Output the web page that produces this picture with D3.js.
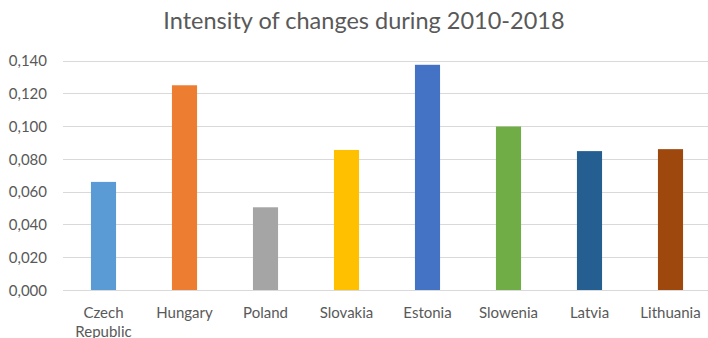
<!DOCTYPE html>
<html>
<head>
<meta charset="utf-8">
<script src="https://cdn.jsdelivr.net/npm/d3@7"></script>
<style>
  html, body { margin: 0; padding: 0; background: #fff; }
  svg { display: block; }
  text { font-family: Lato, "Open Sans", sans-serif; }
</style>
</head>
<body>
<svg id="chart" width="708" height="338"></svg>
<script>
// Intensity of changes per country, 2010-2018
const countries = ["Czech Republic", "Hungary", "Poland", "Slovakia", "Estonia", "Slowenia", "Latvia", "Lithuania"];
const values = [0.066, 0.125, 0.0505, 0.0855, 0.1375, 0.0998, 0.0848, 0.086];
const barColors = ["#5B9BD5", "#ED7D31", "#A5A5A5", "#FFC000", "#4472C4", "#70AD47", "#255E91", "#9E480E"];
const yTicks = [0, 0.02, 0.04, 0.06, 0.08, 0.10, 0.12, 0.14];
const title = "Intensity of changes during 2010-2018";

const svg = d3.select("#chart");
const margin = { left: 63, right: -3, top: 60.7, bottom: 48 };
const W = 708, H = 338;

const x = d3.scaleBand()
  .domain(countries)
  .range([margin.left, W - margin.right])
  .paddingInner(0.69)
  .paddingOuter(0.345);

const y = d3.scaleLinear()
  .domain([0, 0.14])
  .range([290, margin.top]);

const fmt = v => d3.format(".3f")(v).replace(".", ",");

// Title
svg.append("text")
  .attr("x", 364)
  .attr("y", 29)
  .attr("text-anchor", "middle")
  .attr("fill", "#595959")
  .style("font-size", "23.5px")
  .text(title);

// Gridlines
svg.append("g")
  .selectAll("line")
  .data(yTicks.slice(1))
  .join("line")
  .attr("x1", margin.left)
  .attr("x2", W)
  .attr("y1", d => Math.round(y(d)) + 0.5)
  .attr("y2", d => Math.round(y(d)) + 0.5)
  .attr("stroke", "#d9d9d9")
  .attr("stroke-width", 1);

// Y axis labels
const yAxis = d3.axisLeft(y).tickValues(yTicks).tickFormat(fmt).tickSize(0).tickPadding(0);
const gy = svg.append("g")
  .attr("transform", `translate(${margin.left - 16},0)`)
  .call(yAxis);
gy.select(".domain").remove();
gy.selectAll("text")
  .attr("fill", "#595959")
  .attr("dy", "0.35em")
  .style("font-size", "15px")
  .style("font-family", "Lato, 'Open Sans', sans-serif");

// Bars
svg.append("g")
  .selectAll("rect")
  .data(countries)
  .join("rect")
  .attr("x", d => x(d))
  .attr("width", x.bandwidth())
  .attr("y", (d, i) => y(values[i]))
  .attr("height", (d, i) => y(0) - y(values[i]))
  .attr("fill", (d, i) => barColors[i]);

// Baseline (x axis) with wrapped category labels
const xAxis = d3.axisBottom(x).tickSize(0).tickPadding(0);
const gx = svg.append("g")
  .attr("transform", `translate(0,${Math.round(y(0)) + 0.5})`)
  .call(xAxis);
gx.select(".domain")
  .attr("d", `M${margin.left},0H${W}`)
  .attr("stroke", "#d9d9d9");
gx.selectAll(".tick text").each(function (d) {
  const t = d3.select(this);
  const words = d.split(" ");
  t.text(null)
    .attr("y", null)
    .attr("dy", null)
    .attr("fill", "#595959")
    .style("font-size", "15px")
    .style("font-family", "Lato, 'Open Sans', sans-serif");
  words.forEach((w, i) => {
    t.append("tspan")
      .attr("x", 0)
      .attr("y", 27 + i * 19)
      .text(w);
  });
});
</script>
</body>
</html>
